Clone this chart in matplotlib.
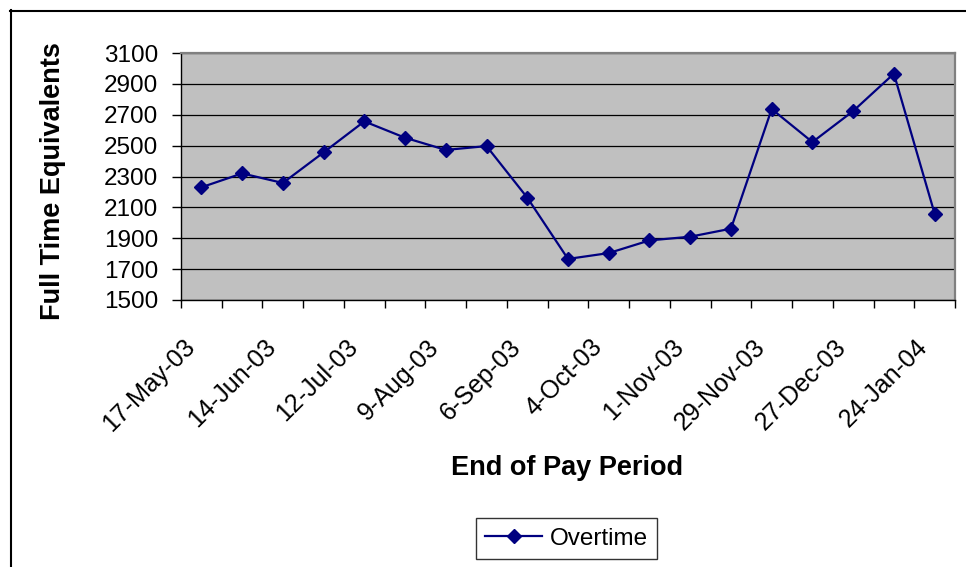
import matplotlib
matplotlib.use("Agg")
import matplotlib.pyplot as plt
from matplotlib.lines import Line2D
from matplotlib.transforms import ScaledTranslation
import numpy as np

# ---- data ----
pay_periods = ["17-May-03", "31-May-03", "14-Jun-03", "28-Jun-03", "12-Jul-03",
               "26-Jul-03", "9-Aug-03", "23-Aug-03", "6-Sep-03", "20-Sep-03",
               "4-Oct-03", "18-Oct-03", "1-Nov-03", "15-Nov-03", "29-Nov-03",
               "13-Dec-03", "27-Dec-03", "10-Jan-04", "24-Jan-04"]
overtime = [2230, 2320, 2258, 2456, 2657, 2551, 2472, 2497, 2163, 1766,
            1804, 1886, 1910, 1962, 2737, 2523, 2724, 2966, 2059]
y_ticks = [1500, 1700, 1900, 2100, 2300, 2500, 2700, 2900, 3100]
series_name = "Overtime"
x_title = "End of Pay Period"
y_title = "Full Time Equivalents"

plt.rcParams['font.family'] = ['Liberation Sans', 'DejaVu Sans']

W, H = 966, 567
fig = plt.figure(figsize=(W / 100, H / 100), dpi=100)
fig.patch.set_facecolor("white")

L, R, T, B = 181, 955, 53, 300
ax = fig.add_axes([L / W, 1 - B / H, (R - L) / W, (B - T) / H])
ax.set_facecolor("#C0C0C0")

x = np.arange(len(pay_periods))
ax.plot(x, overtime, color="#000080", lw=1.6, marker="D", ms=7,
        mfc="#000080", mec="#000080", label=series_name, zorder=3)

ax.set_xlim(-0.5, len(pay_periods) - 0.5)
ax.set_ylim(y_ticks[0], y_ticks[-1])
ax.set_yticks(y_ticks)
ax.set_yticklabels([str(v) for v in y_ticks], fontsize=17.5)
ax.tick_params(axis="y", direction="out", length=6.5, width=1, pad=10, color="black")

# category tick labels on every other period
lab_idx = x[::2]
ax.set_xticks(lab_idx)
ax.set_xticklabels([pay_periods[i] for i in lab_idx], fontsize=18,
                   rotation=45, ha="right", va="top", rotation_mode="anchor")
ax.tick_params(axis="x", which="major", length=0, pad=25)
off = ScaledTranslation(-19 / 100, 0, fig.dpi_scale_trans)
for t in ax.get_xticklabels():
    t.set_transform(t.get_transform() + off)
ax.set_xticks(np.arange(len(pay_periods) + 1) - 0.5, minor=True)
ax.tick_params(axis="x", which="minor", direction="out", length=5.8, width=1, color="black")

ax.yaxis.grid(True, color="black", lw=0.9)
ax.set_axisbelow(True)
for s in ["left", "bottom"]:
    ax.spines[s].set_color("black")
    ax.spines[s].set_linewidth(1.0)
for s in ["top", "right"]:
    ax.spines[s].set_color("#808080")
    ax.spines[s].set_linewidth(1.6)

fig.text(53 / W, 1 - 181.5 / H, y_title, rotation=90, ha="center", va="center",
         fontsize=19.5, fontweight="bold")
fig.text(567 / W, 1 - 475 / H, x_title, ha="center", va="baseline",
         fontsize=19.5, fontweight="bold")

leg = fig.legend(loc="center", bbox_to_anchor=(566.5 / W, 1 - 538.5 / H),
                 fontsize=17.5, frameon=True, fancybox=False, shadow=False,
                 handlelength=2.35, handletextpad=0.3, borderpad=0.4,
                 numpoints=1)
leg.get_frame().set_edgecolor("black")
leg.get_frame().set_linewidth(1.0)

# chart area border
fig.add_artist(Line2D([10.5 / W, 10.5 / W], [1 - 10 / H, 0], color="black",
                      lw=1.5, transform=fig.transFigure))
fig.add_artist(Line2D([10 / W, 1], [1 - 10.5 / H, 1 - 10.5 / H], color="black",
                      lw=1.5, transform=fig.transFigure))

fig.savefig("out.png", dpi=100)
